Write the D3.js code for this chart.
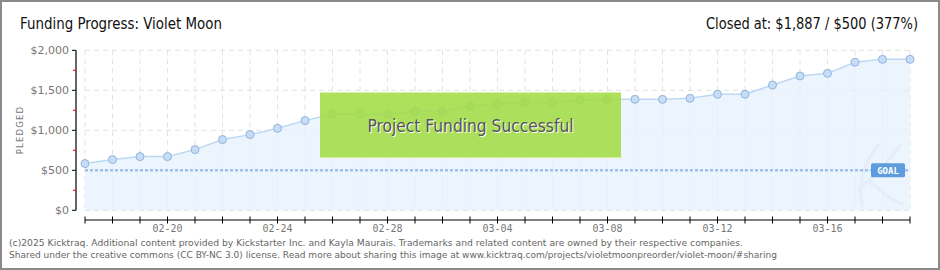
<!DOCTYPE html>
<html><head><meta charset="utf-8">
<script src="https://cdn.jsdelivr.net/npm/d3@7/dist/d3.min.js"></script>
<style>
html,body{margin:0;padding:0;background:#fff;}
svg{display:block;}
</style></head>
<body>
<svg id="chart" width="940" height="270"></svg>
<script>
const dates = ["02-17","02-18","02-19","02-20","02-21","02-22","02-23","02-24","02-25","02-26","02-27","02-28","03-01","03-02","03-03","03-04","03-05","03-06","03-07","03-08","03-09","03-10","03-11","03-12","03-13","03-14","03-15","03-16","03-17","03-18","03-19"];
const pledged = [584,634,671,671,759,884,946,1025,1121,1203,1203,1200,1237,1237,1304,1329,1350,1350,1375,1387,1387,1387,1400,1450,1450,1566,1679,1712,1850,1887,1887];
const goal = 500;
const yTicks = [0,500,1000,1500,2000];
const yMinorTicks = [250,750,1250,1750];
const xLabelDates = ["02-20","02-24","02-28","03-04","03-08","03-12","03-16"];
const titleText = "Funding Progress: Violet Moon";
const closedText = "Closed at:  $1,887 /  $500 (377%)";
const bannerText = "Project Funding Successful";
const footer = ["(c)2025 Kicktraq. Additional content provided by Kickstarter Inc. and Kayla Maurais. Trademarks and related content are owned by their respective companies.",
"Shared under the creative commons (CC BY-NC 3.0) license. Read more about sharing this image at www.kicktraq.com/projects/violetmoonpreorder/violet-moon/#sharing"];

const svg = d3.select("#chart");
const W = 940, H = 270;
const x = d3.scalePoint().domain(dates).range([85, 910]);
const y = d3.scaleLinear().domain([0,2000]).range([210.3, 50.3]);

// border
svg.append("rect").attr("x",1).attr("y",1).attr("width",W-2).attr("height",H-2)
  .attr("fill","#fff").attr("stroke","#8a8a8a").attr("stroke-width",2);

const titleFont = "'DejaVu Sans Condensed', 'Liberation Sans Narrow', sans-serif";
svg.append("text").attr("x",20).attr("y",29).attr("font-family",titleFont)
  .attr("font-size",15.5).attr("fill","#111").attr("textLength",202).attr("lengthAdjust","spacingAndGlyphs").text(titleText);
svg.append("text").attr("x",918).attr("y",29).attr("text-anchor","end").attr("font-family",titleFont)
  .attr("font-size",15.5).attr("fill","#111").attr("textLength",212).attr("lengthAdjust","spacingAndGlyphs").text(closedText);

// grid
const g = svg.append("g");
g.selectAll("line.vg").data(dates).join("line").attr("class","vg")
  .attr("x1",d=>x(d)).attr("x2",d=>x(d)).attr("y1",y(2000)).attr("y2",y(0))
  .attr("stroke","#e2e2e2").attr("stroke-dasharray","5,4");
g.selectAll("line.hg").data(yTicks).join("line").attr("class","hg")
  .attr("x1",85).attr("x2",910).attr("y1",d=>y(d)).attr("y2",d=>y(d))
  .attr("stroke","#e2e2e2").attr("stroke-dasharray","5,4");

// area
const area = d3.area().x((d,i)=>x(dates[i])).y0(y(0)).y1(d=>y(d));
g.append("path").datum(pledged).attr("d",area).attr("fill","#e6f0fc").attr("opacity",0.75);
// faint watermark (drawn as a stroke, not text)
g.append("path").attr("d","M862,205 C858,180 866,160 878,145 M858,190 C880,170 895,155 900,145 M868,180 C880,190 890,200 902,204")
  .attr("fill","none").attr("stroke","#e3ebf4").attr("stroke-width",3).attr("stroke-linecap","round").attr("opacity",0.8);
const line = d3.line().x((d,i)=>x(dates[i])).y(d=>y(d));
g.append("path").datum(pledged).attr("d",line).attr("fill","none").attr("stroke","#bcd8f5").attr("stroke-width",1.5);

// goal line
g.append("line").attr("x1",85).attr("x2",910).attr("y1",y(goal)).attr("y2",y(goal))
  .attr("stroke","#9fc2ea").attr("stroke-width",2.5).attr("stroke-dasharray","3,2");

// markers
g.selectAll("circle.pt").data(pledged).join("circle").attr("class","pt")
  .attr("cx",(d,i)=>x(dates[i])).attr("cy",d=>y(d)).attr("r",4)
  .attr("fill","#c6ddf7").attr("stroke","#93b4d8").attr("stroke-width",1);

// goal label
g.append("rect").attr("x",871).attr("y",y(goal)-7).attr("width",34).attr("height",14).attr("rx",1.5)
  .attr("fill","#5e9ddd");
g.append("text").attr("x",888).attr("y",y(goal)+4).attr("text-anchor","middle")
  .attr("font-family","'DejaVu Sans Mono', monospace").attr("font-size",9).attr("font-weight","bold")
  .attr("fill","#fff").text("GOAL");

// y axis
const ya = svg.append("g");
ya.append("line").attr("x1",76).attr("x2",76).attr("y1",y(2000)).attr("y2",y(0)).attr("stroke","#000").attr("stroke-width",1.2);
ya.selectAll("line.mj").data(yTicks).join("line").attr("class","mj")
  .attr("x1",72).attr("x2",76).attr("y1",d=>y(d)).attr("y2",d=>y(d)).attr("stroke","#000");
ya.selectAll("line.mn").data(yMinorTicks).join("line").attr("class","mn")
  .attr("x1",73).attr("x2",76).attr("y1",d=>y(d)).attr("y2",d=>y(d)).attr("stroke","#e00");
ya.selectAll("text").data(yTicks).join("text")
  .attr("x",69).attr("y",d=>y(d)+4).attr("text-anchor","end")
  .attr("font-family","'DejaVu Sans', sans-serif").attr("font-size",11).attr("fill","#777")
  .text(d=>"$"+d3.format(",")(d));
svg.append("text").attr("transform","translate(23,130) rotate(-90)").attr("text-anchor","middle")
  .attr("font-family","'DejaVu Sans', sans-serif").attr("font-size",8.5).attr("letter-spacing",1.2)
  .attr("fill","#777").text("PLEDGED");

// x axis
const xa = svg.append("g");
xa.append("line").attr("x1",85).attr("x2",910).attr("y1",220).attr("y2",220).attr("stroke","#000").attr("stroke-width",1.2);
xa.selectAll("line.t").data(dates).join("line").attr("class","t")
  .attr("x1",d=>x(d)).attr("x2",d=>x(d)).attr("y1",216.5).attr("y2",223.5).attr("stroke","#000");
xa.selectAll("text").data(xLabelDates).join("text")
  .attr("x",d=>x(d)).attr("y",232).attr("text-anchor","middle")
  .attr("font-family","'DejaVu Sans Mono', monospace").attr("font-size",10).attr("fill","#777").text(d=>d);

// banner
const bx = 320, by = 92.5, bw = 301, bh = 65;
svg.append("rect").attr("x",bx).attr("y",by).attr("width",bw).attr("height",bh)
  .attr("fill","#a3dc45").attr("opacity",0.88);
svg.append("line").attr("x1",bx).attr("x2",bx+bw).attr("y1",by+bh).attr("y2",by+bh).attr("stroke","#d8ea9c");
svg.append("text").attr("x",bx+bw/2+1).attr("y",by+40).attr("text-anchor","middle")
  .attr("font-family",titleFont).attr("font-size",17).attr("fill","#fff")
  .attr("textLength",206).attr("lengthAdjust","spacingAndGlyphs").text(bannerText);
svg.append("text").attr("x",bx+bw/2).attr("y",by+39).attr("text-anchor","middle")
  .attr("font-family",titleFont).attr("font-size",17).attr("fill","#555")
  .attr("textLength",206).attr("lengthAdjust","spacingAndGlyphs").text(bannerText);

// footer
svg.selectAll("text.ft").data(footer).join("text").attr("class","ft")
  .attr("x",9).attr("y",(d,i)=>246+i*12)
  .attr("font-family","'DejaVu Sans', Verdana, sans-serif").attr("font-size",9.5).attr("fill","#666")
  .attr("textLength",(d,i)=> i===0 ? 734 : 768).attr("lengthAdjust","spacingAndGlyphs")
  .text(d=>d);
</script>
</body></html>
